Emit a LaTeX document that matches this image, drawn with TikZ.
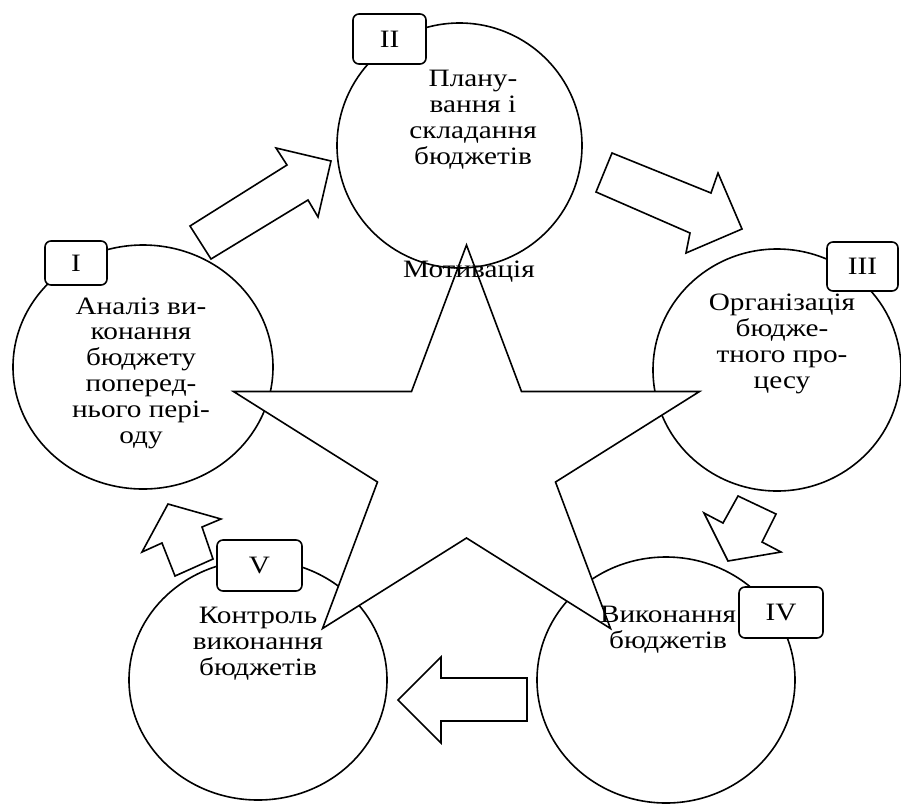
\documentclass[tikz,border=0pt]{standalone}
\usepackage{fontspec}
\setmainfont{Liberation Serif}[FakeStretch=1.17]
\usetikzlibrary{shapes.geometric}
\begin{document}
\begin{tikzpicture}[x=1pt,y=-1pt,
  outline/.style={draw=black, line width=1.6pt},
  stage/.style={ellipse, outline, fill=white, inner sep=0pt, outer sep=0pt},
  numbox/.style={outline, fill=white, rounded corners=6pt, inner sep=0pt,
    font=\fontsize{25}{25.8}\selectfont},
  blockarrow/.style={outline, fill=white, line join=miter},
  caption/.style={align=center, inner sep=0pt, anchor=base,
    font=\fontsize{25}{25.8}\selectfont},
]
\useasboundingbox (0,0) rectangle (901,804);

% stage circles partly covered by the star
\node[stage, minimum width=260pt, minimum height=244pt] (c1) at (143,367) {};
\node[stage, minimum width=248pt, minimum height=242pt] (c3) at (777,370) {};
\node[stage, minimum width=258pt, minimum height=246pt] (c4) at (666,680) {};
\node[stage, minimum width=258pt, minimum height=240pt] (c5) at (258,680) {};

% block arrows between the stages
\draw[blockarrow] (190,226) -- (287,165) -- (276,148) -- (331,161)
  -- (318,217) -- (308,200) -- (211,259) -- cycle;
\draw[blockarrow] (612,153) -- (711,193) -- (718,173) -- (742,229)
  -- (686,253) -- (690,233) -- (596,192) -- cycle;
\draw[blockarrow] (738,496) -- (776,514) -- (762,542) -- (781,552)
  -- (728,561) -- (704,513) -- (723,523) -- cycle;
\draw[blockarrow] (527,678) -- (441,678) -- (441,657) -- (398,700)
  -- (441,743) -- (441,721) -- (527,721) -- cycle;
\draw[blockarrow] (213,559) -- (202,527) -- (221,519) -- (168,504)
  -- (142,552) -- (162,543) -- (175,576) -- cycle;

% the motivation star
\draw[outline, fill=white, line join=miter]
  (466.5,245) -- (521.5,391.5) -- (699.5,391.5) -- (555.5,482)
  -- (610.5,628.5) -- (466.5,538) -- (322.5,628.5) -- (377.5,482)
  -- (233.5,391.5) -- (411.5,391.5) -- cycle;

% planning circle drawn over the star tip
\node[ellipse, outline, inner sep=0pt, minimum width=245pt, minimum height=245pt] (c2) at (459.5,145.5) {};

% stage numbers
\node[numbox, minimum width=62pt, minimum height=44pt] (n1) at (76,263) {I};
\node[numbox, minimum width=73pt, minimum height=50pt] (n2) at (389.5,39) {II};
\node[numbox, minimum width=71pt, minimum height=49pt] (n3) at (862.5,266.5) {III};
\node[numbox, minimum width=84pt, minimum height=51pt] (n4) at (781,612.5) {IV};
\node[numbox, minimum width=85pt, minimum height=51pt] (n5) at (259.5,565.5) {V};

% stage captions (placed by the baseline of their last line)
\node[caption] (t1) at (141,443) {Аналіз ви-\\конання\\бюджету\\поперед-\\нього пері-\\оду};
\node[caption] (t2) at (473,164) {Плану-\\вання і\\складання\\бюджетів};
\node[caption] (t3) at (782,388) {Організація\\бюдже-\\тного про-\\цесу};
\node[caption] (t4) at (668,648) {Виконання\\бюджетів};
\node[caption] (t5) at (258,675) {Контроль\\виконання\\бюджетів};
\node[caption] (mot) at (469,277) {Мотивація};
\end{tikzpicture}
\end{document}
